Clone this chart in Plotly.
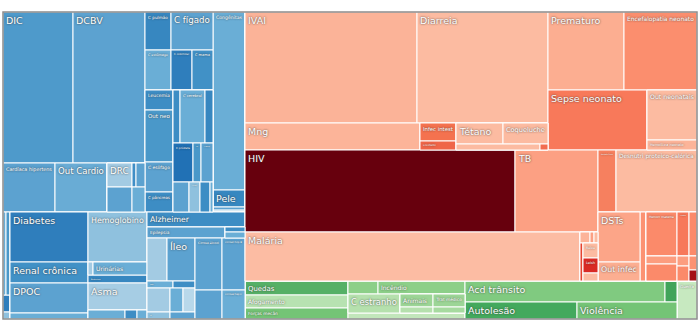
import plotly.graph_objects as go

# ---------------- data: (id, parent, label, value) ----------------
ROOT = [("root", "", "", 0), ("ncd", "root", "", 0), ("x", "root", "", 0)]

NCD_TOP = [
    ("ncd_top", "ncd", "", 0),
    ("cv", "ncd_top", "", 0),
    ("cv_a", "cv", "", 0),
    ("dic", "cv_a", "DIC", 10570),
    ("dcbv", "cv_a", "DCBV", 10872),
    ("cv_b", "cv", "", 0),
    ("card_hip", "cv_b", "Cardíaca hipertens", 2548),
    ("out_cardio", "cv_b", "Out Cardio", 2548),
    ("cv_s", "cv_b", "", 0),
    ("cv_s1", "cv_s", "", 0),
    ("drc", "cv_s1", "DRC", 600),
    ("cv_x1", "cv_s1", "", 96),
    ("cv_x2", "cv_s1", "", 216),
    ("cv_s2", "cv_s", "", 0),
    ("cv_x3", "cv_s2", "", 625),
    ("cv_x4", "cv_s2", "", 325),
]

NCD_NEO = [
    ("neo", "ncd_top", "", 0),
    ("neo_r1", "neo", "", 0),
    ("c_pulmao", "neo_r1", "C pulmão", 988),
    ("c_figado", "neo_r1", "C fígado", 1596),
    ("neo_r2", "neo", "", 0),
    ("c_estomago", "neo_r2", "C estômago", 1040),
    ("c_colorretal", "neo_r2", "C colorretal", 840),
    ("c_mama", "neo_r2", "C mama", 840),
    ("neo_r3", "neo", "", 0),
    ("neo_ca", "neo_r3", "", 0),
    ("leucemia", "neo_ca", "Leucemia", 560),
    ("out_neo", "neo_ca", "Out neo", 1456),
    ("c_esofago", "neo_ca", "C esôfago", 840),
    ("c_pancreas", "neo_ca", "C pâncreas", 560),
    ("neo_cb", "neo_r3", "", 0),
    ("neo_b1", "neo_cb", "", 0),
    ("neo_n1", "neo_b1", "", 371),
    ("c_cerebral", "neo_b1", "C cerebral", 1325),
    ("nao_hodgkin", "neo_b1", "Não Hodgkin", 424),
    ("neo_b2", "neo_cb", "", 0),
    ("c_prostata", "neo_b2", "C próstata", 780),
    ("c_rim", "neo_b2", "C rim", 312),
    ("c_bexiga", "neo_b2", "C bexiga", 468),
    ("neo_b3", "neo_cb", "", 0),
    ("neo_n2", "neo_b3", "", 480),
    ("neo_n3", "neo_b3", "C útero", 330),
    ("neo_n4", "neo_b3", "", 300),
    ("neo_n5", "neo_b3", "", 90),
    ("oth", "ncd_top", "", 0),
    ("congenitas", "oth", "Congênitas", 5696),
    ("pele", "oth", "Pele", 544),
    ("oth_n1", "oth", "", 100),
    ("oth_n2", "oth", "", 60),
]

NCD_BOT = [
    ("ncd_bot", "ncd", "", 0),
    ("mental", "ncd_bot", "", 0),
    ("mental_s", "mental", "", 0),
    ("men_1", "mental_s", "", 249),
    ("men_2", "mental_s", "", 332),
    ("men_3", "mental", "", 119),
    ("men_4", "mental", "", 49),
    ("dr", "ncd_bot", "", 0),
    ("diab_g", "dr", "", 0),
    ("diab_l", "diab_g", "", 0),
    ("diabetes", "diab_l", "Diabetes", 3900),
    ("renal", "diab_l", "Renal crônica", 1638),
    ("diab_r", "diab_g", "", 0),
    ("hemoglobino", "diab_r", "Hemoglobino", 2950),
    ("uri_row", "diab_r", "", 0),
    ("uri_n1", "uri_row", "", 65),
    ("urinarias", "uri_row", "Urinárias", 702),
    ("endocrinas", "diab_r", "Endócrinas", 472),
    ("resp", "dr", "", 0),
    ("resp_l", "resp", "", 0),
    ("dpoc", "resp_l", "DPOC", 2340),
    ("resp_n1", "resp_l", "", 468),
    ("resp_r", "resp", "", 0),
    ("asma", "resp_r", "Asma", 1593),
    ("resp_row", "resp_r", "", 0),
    ("resp_n2", "resp_row", "", 333),
    ("resp_n3", "resp_row", "", 108),
    ("resp_n4", "resp_row", "", 90),
    ("nd", "ncd_bot", "", 0),
    ("neuro", "nd", "", 0),
    ("neuro_in", "neuro", "", 0),
    ("alzheimer", "neuro_in", "Alzheimer", 1470),
    ("epi_row", "neuro_in", "", 0),
    ("epilepsia", "epi_row", "Epilepsia", 858),
    ("epi_col", "epi_row", "", 0),
    ("neu_n1", "epi_col", "", 100),
    ("neu_n2", "epi_col", "", 120),
    ("dig", "nd", "", 0),
    ("dig_l", "dig", "", 0),
    ("dl_r1", "dig_l", "", 0),
    ("dig_n1", "dl_r1", "", 860),
    ("ileo", "dl_r1", "Íleo", 1204),
    ("dl_r2", "dig_l", "", 0),
    ("gastrite", "dl_r2", "Gastrite", 182),
    ("dig_n2", "dl_r2", "", 154),
    ("dl_r3", "dig_l", "", 0),
    ("dig_n3", "dl_r3", "", 552),
    ("dig_n4", "dl_r3", "", 312),
    ("dig_n5", "dl_r3", "", 288),
    ("dl_r4", "dig_l", "", 0),
    ("dig_n6", "dl_r4", "Out", 161),
    ("dig_n7", "dl_r4", "", 175),
    ("dig_r", "dig", "", 0),
    ("dr_r1", "dig_r", "", 0),
    ("cirr_alc", "dr_r1", "Cirrose álcool", 1404),
    ("cirr_b", "dr_r1", "Cirrose hep B", 1196),
    ("dr_r2", "dig_r", "", 0),
    ("cirr_out", "dr_r2", "", 783),
    ("cirr_c", "dr_r2", "Cirrose hep C", 667),
]

COMM_TOP = [
    ("comm", "x", "", 0),
    ("comm_in", "comm", "", 0),
    ("comm_top", "comm_in", "", 0),
    ("lri", "comm_top", "", 0),
    ("lri_r1", "lri", "", 0),
    ("ivai", "lri_r1", "IVAI", 19092),
    ("diarreia", "lri_r1", "Diarreia", 14541),
    ("lri_r2", "lri", "", 0),
    ("mng", "lri_r2", "Mng", 4725),
    ("inf_col", "lri_r2", "", 0),
    ("infec_intest", "inf_col", "Infec intest", 648),
    ("encefalite", "inf_col", "Encefalite", 324),
    ("tet_col", "lri_r2", "", 0),
    ("tet_row", "tet_col", "", 0),
    ("tetano", "tet_row", "Tétano", 987),
    ("coqueluche", "tet_row", "Coqueluche", 945),
    ("tet_row2", "tet_col", "", 0),
    ("lri_n1", "tet_row2", "", 504),
    ("lri_n2", "tet_row2", "", 48),
    ("neonat", "comm_top", "", 0),
    ("nn_r1", "neonat", "", 0),
    ("prematuro", "nn_r1", "Prematuro", 5928),
    ("encefalopatia", "nn_r1", "Encefalopatia neonato", 5694),
    ("nn_r2", "neonat", "", 0),
    ("sepse", "nn_r2", "Sepse neonato", 5940),
    ("nn_col", "nn_r2", "", 0),
    ("out_neonat", "nn_col", "Out neonatais", 2500),
    ("hemolitica", "nn_col", "Hemolítica neonato", 500),
]

COMM_BOT = [
    ("comm_bot", "comm_in", "", 0),
    ("htm", "comm_bot", "", 0),
    ("hivtb", "htm", "", 0),
    ("hiv", "hivtb", "HIV", 22140),
    ("tb", "hivtb", "TB", 6806),
    ("ntd", "htm", "", 0),
    ("malaria", "ntd", "Malária", 16415),
    ("ntd_s", "ntd", "", 0),
    ("ntd_ra", "ntd_s", "", 0),
    ("ntd_n1", "ntd_ra", "", 110),
    ("ntd_n2", "ntd_ra", "", 44),
    ("ntd_n3", "ntd_ra", "", 44),
    ("ntd_rb", "ntd_s", "", 0),
    ("ntd_n4", "ntd_rb", "", 114),
    ("ntd_cb", "ntd_rb", "", 0),
    ("raiva", "ntd_cb", "Raiva", 225),
    ("leish", "ntd_cb", "Leish", 225),
    ("ntd_n5", "ntd_cb", "", 120),
    ("no", "comm_bot", "", 0),
    ("nutr", "no", "", 0),
    ("anemia", "nutr", "Anemia ferro", 1116),
    ("desnutri", "nutr", "Desnutri proteico-calórica", 5022),
    ("othmat", "no", "", 0),
    ("othinf", "othmat", "", 0),
    ("dsts", "othinf", "DSTs", 2100),
    ("out_infec", "othinf", "Out infec", 798),
    ("om_n1", "othmat", "", 414),
    ("maternal", "othmat", "", 0),
    ("mat_r1", "maternal", "", 0),
    ("hemorr", "mat_r1", "Hemorr materna", 1364),
    ("has", "mat_r1", "HAS materna", 528),
    ("mat_n1", "mat_r1", "", 352),
    ("mat_r2", "maternal", "", 0),
    ("mat_c1", "mat_r2", "", 0),
    ("mat_n2", "mat_c1", "", 248),
    ("mat_n3", "mat_c1", "", 527),
    ("mat_c2", "mat_r2", "", 0),
    ("mat_n4", "mat_c2", "", 120),
    ("mat_n5", "mat_c2", "", 180),
    ("mat_c3", "mat_r2", "", 0),
    ("mat_n6", "mat_c3", "", 112),
    ("mat_n7", "mat_c3", "", 88),
]

INJ = [
    ("inj", "x", "", 0),
    ("inj_a", "inj", "", 0),
    ("quedas", "inj_a", "Quedas", 1442),
    ("afogamento", "inj_a", "Afogamento", 1339),
    ("forcas", "inj_a", "Forças mecân", 1133),
    ("inj_b", "inj", "", 0),
    ("injb_r1", "inj_b", "", 0),
    ("inj_n1", "injb_r1", "", 390),
    ("incendio", "injb_r1", "Incêndio", 1131),
    ("injb_r2", "inj_b", "", 0),
    ("c_estranho", "injb_r2", "C estranho", 988),
    ("at_col", "injb_r2", "", 0),
    ("at_row", "at_col", "", 0),
    ("animais", "at_row", "Animais", 429),
    ("trat_medico", "at_row", "Trat médico", 416),
    ("at_row2", "at_col", "", 0),
    ("inj_n2", "at_row2", "", 198),
    ("inj_n3", "at_row2", "", 192),
    ("inj_n4", "inj_b", "", 702),
    ("inj_c", "inj", "", 0),
    ("injc_r1", "inj_c", "", 0),
    ("acd_transito", "injc_r1", "Acd trânsito", 4200),
    ("inj_n5", "injc_r1", "", 252),
    ("injc_r2", "inj_c", "", 0),
    ("autolesao", "injc_r2", "Autolesão", 1904),
    ("violencia", "injc_r2", "Violência", 1700),
    ("guerra", "inj", "Guerra", 760),
]

# ---------------- styles ----------------
LEAF_COLORS = {
    "dic": "#4e9acb", "dcbv": "#5ca2d0", "card_hip": "#5ca2d0", "out_cardio": "#69acd5",
    "drc": "#a3cbe3", "cv_x1": "#3f8ec6", "cv_x2": "#5ca2d0", "cv_x3": "#5ca2d0", "cv_x4": "#6aaed6",
    "c_pulmao": "#3787c0", "c_figado": "#5ca2d0", "c_estomago": "#6aaed6", "c_colorretal": "#2f7ebc",
    "c_mama": "#4191c6", "leucemia": "#3d8dc4", "out_neo": "#4a98c9", "c_esofago": "#5ca2d0",
    "c_pancreas": "#3d8dc4", "neo_n1": "#3d8dc4", "c_cerebral": "#6aaed6", "nao_hodgkin": "#3787c0",
    "c_prostata": "#2171b5", "c_rim": "#4a98c9", "c_bexiga": "#5ca2d0", "neo_n2": "#5ca2d0",
    "neo_n3": "#8fc1de", "neo_n4": "#3d8dc4", "neo_n5": "#6aaed6",
    "congenitas": "#6aaed6", "pele": "#3787c0", "oth_n1": "#5ca2d0", "oth_n2": "#8fc1de",
    "men_1": "#6aaed6", "men_2": "#4a98c9", "men_3": "#2f7ebc", "men_4": "#8fc1de",
    "diabetes": "#2f7ebc", "renal": "#4191c6", "hemoglobino": "#8fc1de", "uri_n1": "#a3cbe3",
    "urinarias": "#6aaed6", "endocrinas": "#3787c0", "dpoc": "#5ca2d0", "resp_n1": "#6aaed6",
    "asma": "#a6cde4", "resp_n2": "#6aaed6", "resp_n3": "#3d8dc4", "resp_n4": "#6aaed6",
    "alzheimer": "#3d8dc4", "epilepsia": "#5ca2d0", "neu_n1": "#3d8dc4", "neu_n2": "#6aaed6",
    "dig_n1": "#a3cbe3", "ileo": "#5ca2d0", "gastrite": "#6aaed6", "dig_n2": "#3d8dc4",
    "dig_n3": "#a3cbe3", "dig_n4": "#6aaed6", "dig_n5": "#b8d8ea", "dig_n6": "#8fc1de", "dig_n7": "#5ca2d0",
    "cirr_alc": "#5ca2d0", "cirr_b": "#5ca2d0", "cirr_out": "#5ca2d0", "cirr_c": "#6aaed6",
    "ivai": "#fbb398", "diarreia": "#fcbba1", "mng": "#fcb499", "infec_intest": "#f4724f",
    "encefalite": "#ef6548", "tetano": "#fcbba1", "coqueluche": "#fcbba1", "lri_n1": "#fcbba1",
    "lri_n2": "#f26c4f", "prematuro": "#fcae91", "encefalopatia": "#fb8e6e", "sepse": "#f8795a",
    "out_neonat": "#fcbba1", "hemolitica": "#fcb499", "hiv": "#67000d", "tb": "#fca083",
    "malaria": "#fcbca3", "ntd_n1": "#fcb499", "ntd_n2": "#fca083", "ntd_n3": "#fcbba1",
    "ntd_n4": "#e6432f", "raiva": "#fcbba1", "leish": "#d92a24", "ntd_n5": "#fcbba1",
    "anemia": "#f6805f", "desnutri": "#fcbba1", "dsts": "#fca588", "out_infec": "#fcae91",
    "om_n1": "#fc9272", "hemorr": "#fb8a6a", "has": "#f7785a", "mat_n1": "#fb8a6a",
    "mat_n2": "#fc9d7f", "mat_n3": "#fb8a6a", "mat_n4": "#fc9d7f", "mat_n5": "#fb8a6a",
    "mat_n6": "#fc9272", "mat_n7": "#a50f15",
    "quedas": "#55b066", "afogamento": "#b7e2b1", "forcas": "#74c476", "inj_n1": "#8ccf88",
    "incendio": "#8ccf88", "c_estranho": "#b5e0ad", "animais": "#9cd596", "trat_medico": "#9cd596",
    "inj_n2": "#b5e0ad", "inj_n3": "#a6da9f", "inj_n4": "#c2e6bb", "acd_transito": "#80ca80",
    "inj_n5": "#41a45a", "autolesao": "#43a95d", "violencia": "#74c476", "guerra": "#c7e9c0",
}

nodes = ROOT + NCD_TOP + NCD_NEO + NCD_BOT + COMM_TOP + COMM_BOT + INJ
ids = [n[0] for n in nodes]
parents = [n[1] for n in nodes]
labels = [n[2] for n in nodes]
values = [n[3] for n in nodes]
colors = [LEAF_COLORS.get(i, "#ffffff") for i in ids]
templates = ["%{label}" if v > 0 and lab else "" for lab, v in zip(labels, values)]

fig = go.Figure(go.Treemap(
    ids=ids, labels=labels, parents=parents, values=values,
    branchvalues="remainder", sort=False,
    marker=dict(colors=colors, line=dict(color="white", width=1),
                pad=dict(t=0, l=0, r=0, b=0)),
    tiling=dict(packing="slice-dice", pad=0),
    pathbar=dict(visible=False),
    textposition="top left",
    texttemplate=templates,
    textfont=dict(family="DejaVu Sans", size=9.5, color="white",
                  shadow="0px 0px 2px #333333"),
    hoverinfo="label+value",
))

fig.update_layout(
    width=700, height=328,
    margin=dict(l=3, r=3, t=12, b=9),
    paper_bgcolor="white",
    shapes=[dict(type="rect", xref="paper", yref="paper", x0=0, x1=1, y0=0, y1=1,
                 line=dict(color="#8c8c8c", width=1.5), fillcolor="rgba(0,0,0,0)")],
)

fig.write_html("out.html")
